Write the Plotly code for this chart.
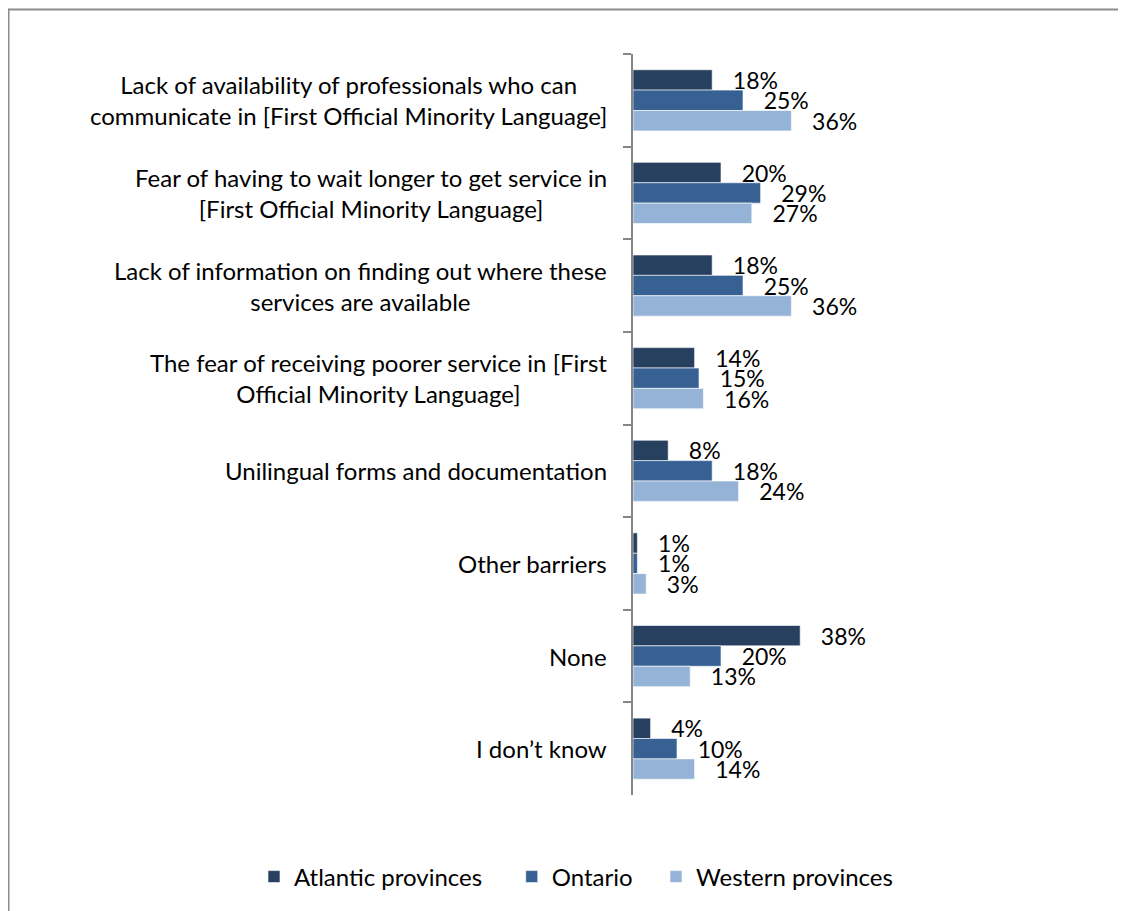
import plotly.graph_objects as go

categories = [
    "Lack of availability of professionals who can<br>communicate in [First Official Minority Language]",
    "Fear of having to wait longer to get service in<br>[First Official Minority Language]",
    "Lack of information on finding out where these<br>services are available",
    "The fear of receiving poorer service in [First<br>Official Minority Language]",
    "Unilingual forms and documentation",
    "Other barriers",
    "None",
    "I don’t know",
]
atlantic = [18, 20, 18, 14, 8, 1, 38, 4]
ontario = [25, 29, 25, 15, 18, 1, 20, 10]
western = [36, 27, 36, 16, 24, 3, 13, 14]

series_names = ["Atlantic provinces", "Ontario", "Western provinces"]
series_colors = ["#28405F", "#376193", "#95B3D7"]
legend_pad = [4, 3, 0]  # trailing non-breaking spaces to widen legend entries

FONT = "Lato"
W, H = 1126, 911
OFF = 8  # page body margin
L, T = 633 - OFF, 54 - OFF
BOT = 795 - OFF
XMAX = 50
PW = 220
R = W - L - PW
B = H - BOT

fig = go.Figure()
for name, vals, col, pad in zip(series_names, [atlantic, ontario, western], series_colors, legend_pad):
    fig.add_trace(go.Bar(
        y=categories, x=vals, name=name + "\u00a0" * pad, orientation="h",
        marker=dict(color=col, line=dict(color="rgba(255,255,255,0.6)", width=1)),
        text=[f"\u00a0\u00a0\u00a0{v}%" for v in vals],
        textposition="outside", cliponaxis=False, constraintext="none",
        textfont=dict(family=FONT, size=23, color="#000000"),
        hoverinfo="skip",
    ))

# category labels as centred multi-line blocks, right-anchored left of the axis
for c in categories:
    fig.add_annotation(x=0, y=c, xref="x", yref="y", text=c, showarrow=False,
                       xanchor="right", yanchor="middle", align="center", xshift=-24,
                       font=dict(family=FONT, size=24, color="#000000"))

ph = H - T - B
def px_x(x):
    return (x - OFF - L) / PW
def px_y(y):
    return (BOT - (y - OFF)) / ph

fig.update_layout(
    width=W, height=H,
    margin=dict(l=L, r=R, t=T, b=B, pad=0),
    paper_bgcolor="white", plot_bgcolor="white",
    barmode="group", bargap=0.34, bargroupgap=0,
    font=dict(family=FONT, size=24, color="#000000"),
    showlegend=True,
    legend=dict(orientation="h", x=px_x(254), y=px_y(877), xanchor="left", yanchor="middle",
                font=dict(family=FONT, size=24, color="#000000"), traceorder="normal"),
    xaxis=dict(range=[0, XMAX], visible=False, showgrid=False, zeroline=False),
    yaxis=dict(autorange="reversed", type="category", showgrid=False, zeroline=False,
               showline=True, linecolor="#868686", linewidth=1.5, showticklabels=False,
               ticks="outside", tickson="boundaries", ticklen=8, tickcolor="#868686", tickwidth=1.5),
    shapes=[dict(type="rect", xref="paper", yref="paper",
                 x0=px_x(8.5), x1=px_x(1160), y0=px_y(950), y1=px_y(9.5),
                 line=dict(color="#8C8C8C", width=2), fillcolor="rgba(0,0,0,0)", layer="below")],
)

fig.write_html("out.html")
